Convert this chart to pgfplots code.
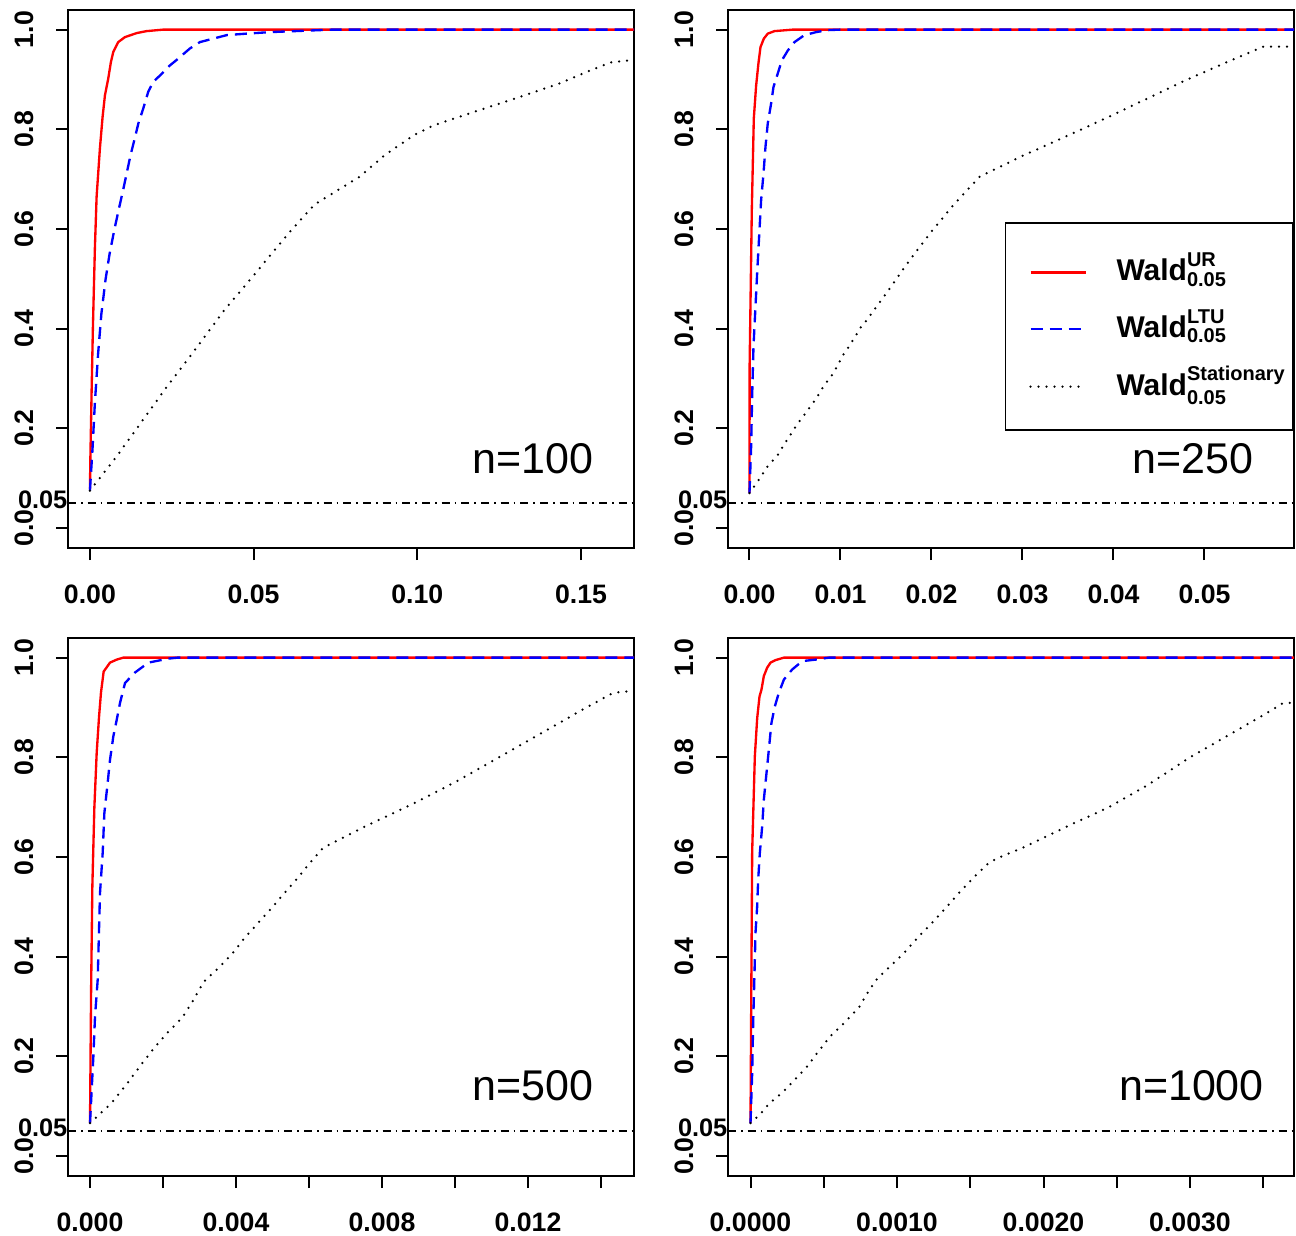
\documentclass[border=0pt]{standalone}
\usepackage{fontspec}
\setmainfont{Liberation Sans}
\usepackage{amsmath}
\usepackage{pgfplots}
\pgfplotsset{compat=1.18}

\tikzset{
  nlab/.style={font=\fontsize{12.9}{14}\selectfont, anchor=base, inner sep=0pt},
  flab/.style={font=\fontsize{7.6}{9}\selectfont\bfseries, anchor=east, inner sep=0pt, yshift=1pt},
  ur/.style={red, line width=0.7pt, line join=round},
  ltu/.style={blue, line width=0.7pt, dash pattern=on 3.6pt off 2.1pt},
  stat/.style={black, line width=0.75pt, line cap=round, dash pattern=on 0pt off 2.4pt},
  refl/.style={black, line width=0.5pt, dash pattern=on 2.4pt off 1.5pt on 0.5pt off 1.5pt},
}
\pgfplotsset{
  panel/.style={
    scale only axis, width=169.8pt, height=161.5pt,
    anchor=south west,
    ymin=-0.04, ymax=1.04,
    ytick={0,0.2,0.4,0.6,0.8,1.0},
    yticklabels={0.0,0.2,0.4,0.6,0.8,1.0},
    scaled x ticks=false, scaled y ticks=false,
    tick align=outside,
    major tick length=3.6pt,
    xtick pos=bottom, ytick pos=left,
    tick style={black, line width=0.6pt},
    axis line style={black, line width=0.6pt},
    tick label style={font=\fontsize{8}{9}\selectfont\bfseries},
    yticklabel style={rotate=90, anchor=south, inner sep=0pt, yshift=6.6pt},
    xticklabel style={anchor=north, inner sep=0pt, yshift=-7.2pt},
    clip mode=individual,
  },
}

\begin{document}
\begin{tikzpicture}
\useasboundingbox (0,0) rectangle (388.8pt,-370.5pt);

% ---------------- n = 100 ----------------
\begin{axis}[panel, at={(20.4pt,-164.4pt)},
  xmin=-0.0067, xmax=0.1662,
  xtick={0,0.05,0.10,0.15}, xticklabels={0.00,0.05,0.10,0.15}]
\addplot[refl, forget plot] coordinates {(-0.0067,0.05) (0.1662,0.05)};
\addplot[ur] coordinates {(0,0.078) (0.000126,0.137) (0.0005,0.27) (0.0009,0.40) (0.0012,0.48) (0.00153,0.565) (0.00204,0.665) (0.00305,0.762) (0.00387,0.825) (0.00458,0.868) (0.0056,0.902) (0.00641,0.935) (0.00713,0.955) (0.00865,0.975) (0.0107,0.985) (0.01426,0.993) (0.0173,0.997) (0.0224,1.0) (0.1662,1.0)};
\addplot[ltu] coordinates {(0,0.075) (0.0008,0.16) (0.0015,0.25) (0.0025,0.35) (0.0035,0.43) (0.0048,0.5) (0.006,0.55) (0.0075,0.6) (0.009,0.645) (0.0102,0.68) (0.0112,0.711) (0.0124,0.748) (0.0137,0.782) (0.0148,0.812) (0.0163,0.842) (0.0178,0.875) (0.0193,0.895) (0.0214,0.908) (0.0244,0.928) (0.027,0.942) (0.0305,0.962) (0.0336,0.975) (0.0377,0.982) (0.0418,0.989) (0.0479,0.992) (0.055,0.995) (0.074,1.0) (0.1662,1.0)};
\addplot[stat] coordinates {(0,0.075) (0.0083,0.145) (0.0231,0.28) (0.0319,0.356) (0.0408,0.435) (0.0509,0.514) (0.061,0.594) (0.0686,0.649) (0.0824,0.705) (0.090,0.748) (0.0989,0.788) (0.105,0.808) (0.1178,0.836) (0.1304,0.863) (0.143,0.891) (0.1532,0.919) (0.1595,0.935) (0.1662,0.939)};
\node[nlab] at (axis cs:0.1353,0.110) {n=100};
\node[flab] at (axis cs:-0.0067,0.05) {0.05};
\end{axis}

% ---------------- n = 250 ----------------
\begin{axis}[panel, at={(218.4pt,-164.4pt)},
  xmin=-0.00236, xmax=0.05984,
  xtick={0,0.01,0.02,0.03,0.04,0.05}, xticklabels={0.00,0.01,0.02,0.03,0.04,0.05},
  legend style={at={(rel axis cs:1,0.605)}, anchor=north east, draw=black, line width=0.5pt,
    inner xsep=0pt, inner ysep=7pt, row sep=3.3pt,
    font=\fontsize{9}{10}\selectfont\bfseries, cells={anchor=west}},
  legend image code/.code={\path (0pt,0pt) (30.6pt,0pt); \draw[#1] (7.2pt,-1pt) -- (23.7pt,-1pt);},
  ]
\addplot[refl, forget plot] coordinates {(-0.00236,0.05) (0.05984,0.05)};
\addplot[ur] coordinates {(0,0.07) (0.00002,0.331) (0.000256,0.638) (0.000476,0.822) (0.000733,0.888) (0.000989,0.933) (0.00121,0.965) (0.00158,0.982) (0.00201,0.992) (0.00275,0.997) (0.00476,1.0) (0.05984,1.0)};
\addlegendentry{$\text{\bfseries Wald}^{\text{\bfseries UR}}_{\text{\bfseries 0.05}}$}
\addplot[ltu] coordinates {(0,0.07) (0.000183,0.164) (0.000293,0.264) (0.00044,0.364) (0.000623,0.431) (0.000842,0.511) (0.0011,0.598) (0.00128,0.658) (0.00154,0.711) (0.00176,0.765) (0.00201,0.812) (0.00238,0.852) (0.00264,0.885) (0.00311,0.912) (0.00355,0.938) (0.00421,0.958) (0.00495,0.975) (0.00604,0.989) (0.00733,0.995) (0.00861,0.999) (0.0100,1.0) (0.05984,1.0)};
\addlegendentry{$\text{\bfseries Wald}^{\text{\bfseries LTU}}_{\text{\bfseries 0.05}}$}
\addplot[stat] coordinates {(0,0.07) (0.000916,0.094) (0.00201,0.124) (0.00311,0.147) (0.00414,0.177) (0.0052,0.207) (0.0063,0.234) (0.00733,0.26) (0.00824,0.287) (0.00927,0.312) (0.01018,0.344) (0.01117,0.371) (0.01227,0.404) (0.01275,0.414) (0.015,0.47) (0.0175,0.535) (0.02,0.595) (0.0225,0.65) (0.0253,0.705) (0.0298,0.745) (0.0343,0.782) (0.0389,0.82) (0.0434,0.859) (0.048,0.899) (0.0525,0.935) (0.0565,0.966) (0.05984,0.966)};
\addlegendentry{$\text{\bfseries Wald}^{\text{\bfseries Stationary}}_{\text{\bfseries 0.05}}$\hspace{1.5pt}}
\node[nlab] at (axis cs:0.0487,0.110) {n=250};
\node[flab] at (axis cs:-0.00236,0.05) {0.05};
\end{axis}

% ---------------- n = 500 ----------------
\begin{axis}[panel, at={(20.4pt,-352.8pt)},
  xmin=-0.000603, xmax=0.014904,
  xtick={0,0.002,0.004,0.006,0.008,0.010,0.012,0.014},
  xticklabels={0.000,,0.004,,0.008,,0.012,}]
\addplot[refl, forget plot] coordinates {(-0.000603,0.05) (0.014904,0.05)};
\addplot[ur] coordinates {(0,0.066) (0.00003,0.333) (0.000064,0.541) (0.000119,0.699) (0.000183,0.809) (0.000247,0.881) (0.000301,0.930) (0.000374,0.972) (0.000548,0.99) (0.000731,0.996) (0.000913,1.0) (0.014904,1.0)};
\addplot[ltu] coordinates {(0,0.066) (0.0000913,0.199) (0.000137,0.28) (0.00021,0.353) (0.000274,0.528) (0.000347,0.608) (0.000393,0.688) (0.000484,0.749) (0.000548,0.795) (0.000639,0.842) (0.000731,0.875) (0.000822,0.909) (0.000959,0.949) (0.00123,0.97) (0.0016,0.99) (0.00215,0.998) (0.0024,1.0) (0.014904,1.0)};
\addplot[stat] coordinates {(0,0.066) (0.000584,0.106) (0.00102,0.146) (0.00145,0.188) (0.00177,0.218) (0.00209,0.245) (0.00253,0.278) (0.00279,0.308) (0.00311,0.349) (0.00354,0.379) (0.00392,0.408) (0.00424,0.438) (0.00461,0.468) (0.00499,0.499) (0.00532,0.527) (0.00569,0.558) (0.00602,0.588) (0.00638,0.618) (0.0075,0.66) (0.0088,0.705) (0.0100,0.75) (0.0112,0.8) (0.0124,0.85) (0.0136,0.9) (0.0143,0.928) (0.0146,0.932) (0.014904,0.932)};
\node[nlab] at (axis cs:0.01214,0.112) {n=500};
\node[flab] at (axis cs:-0.000603,0.05) {0.05};
\end{axis}

% ---------------- n = 1000 ----------------
\begin{axis}[panel, at={(218.4pt,-352.8pt)},
  xmin=-0.0001536, xmax=0.00371,
  xtick={0,0.0005,0.0010,0.0015,0.0020,0.0025,0.0030,0.0035},
  xticklabels={0.0000,,0.0010,,0.0020,,0.0030,}]
\addplot[refl, forget plot] coordinates {(-0.0001536,0.05) (0.00371,0.05)};
\addplot[ur] coordinates {(0,0.066) (0.000005,0.31) (0.0000114,0.611) (0.0000296,0.802) (0.0000455,0.878) (0.0000614,0.922) (0.000075,0.936) (0.000091,0.963) (0.000114,0.98) (0.000137,0.99) (0.000171,0.995) (0.000228,1.0) (0.00371,1.0)};
\addplot[ltu] coordinates {(0,0.066) (0.0000114,0.166) (0.0000182,0.267) (0.0000273,0.367) (0.0000341,0.448) (0.0000455,0.501) (0.0000523,0.554) (0.0000637,0.608) (0.0000796,0.661) (0.000091,0.715) (0.000107,0.762) (0.000125,0.815) (0.000143,0.869) (0.000166,0.902) (0.000193,0.929) (0.000228,0.956) (0.000284,0.976) (0.000353,0.993) (0.000444,0.996) (0.000535,1.0) (0.00371,1.0)};
\addplot[stat] coordinates {(0,0.066) (0.0000657,0.084) (0.00013,0.106) (0.00022,0.128) (0.000305,0.154) (0.000384,0.179) (0.000464,0.21) (0.000543,0.24) (0.00065,0.27) (0.000744,0.30) (0.000796,0.326) (0.000864,0.356) (0.000944,0.378) (0.00105,0.408) (0.00114,0.438) (0.00124,0.468) (0.00133,0.497) (0.00142,0.527) (0.00152,0.558) (0.00161,0.584) (0.00168,0.597) (0.00187,0.62) (0.00215,0.66) (0.00244,0.699) (0.00272,0.746) (0.0030,0.8) (0.00329,0.849) (0.00352,0.888) (0.00363,0.908) (0.00371,0.91)};
\node[nlab] at (axis cs:0.00301,0.112) {n=1000};
\node[flab] at (axis cs:-0.0001536,0.05) {0.05};
\end{axis}
\end{tikzpicture}
\end{document}
